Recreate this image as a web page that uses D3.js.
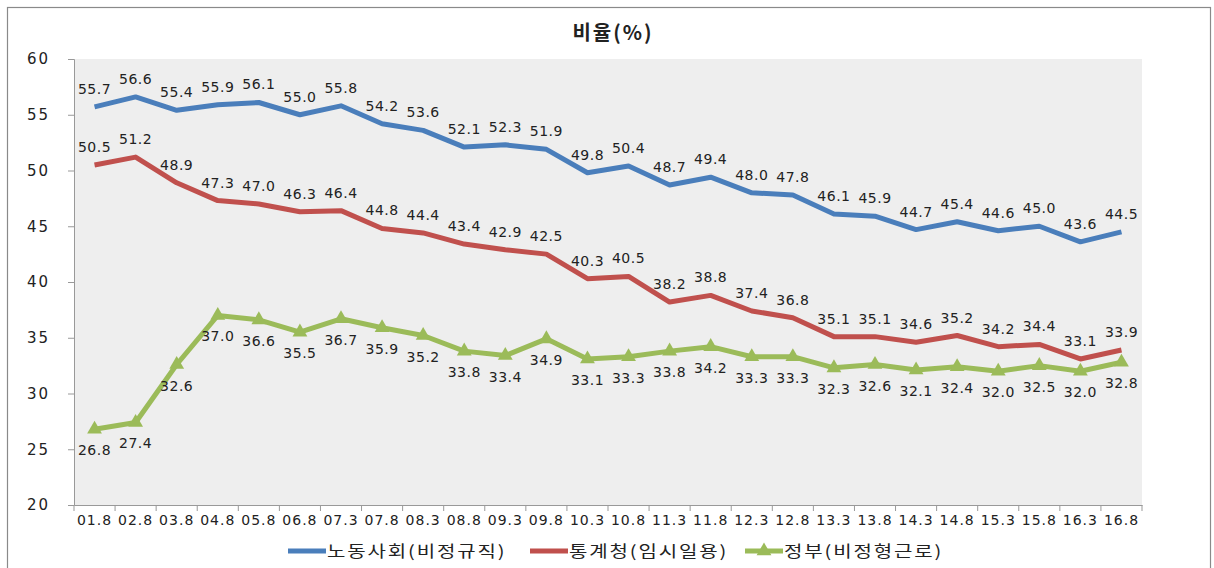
<!DOCTYPE html>
<html>
<head>
<meta charset="utf-8">
<script src="https://d3js.org/d3.v7.min.js"></script>
<style>
  body { margin: 0; background: #fff; }
  text { font-family: "DejaVu Sans", Verdana, sans-serif; fill: #222; }
  .kr { font-family: "Noto Sans CJK KR", "DejaVu Sans", sans-serif; }
</style>
</head>
<body>
<script>
  // categories (year.month)
  var periods = ["01.8","02.8","03.8","04.8","05.8","06.8","07.3","07.8","08.3","08.8","09.3","09.8","10.3",
                 "10.8","11.3","11.8","12.3","12.8","13.3","13.8","14.3","14.8","15.3","15.8","16.3","16.8"];

  var labour = [55.7,56.6,55.4,55.9,56.1,55.0,55.8,54.2,53.6,52.1,52.3,51.9,49.8,
                50.4,48.7,49.4,48.0,47.8,46.1,45.9,44.7,45.4,44.6,45.0,43.6,44.5];
  var statistics = [50.5,51.2,48.9,47.3,47.0,46.3,46.4,44.8,44.4,43.4,42.9,42.5,40.3,
                    40.5,38.2,38.8,37.4,36.8,35.1,35.1,34.6,35.2,34.2,34.4,33.1,33.9];
  var government = [26.8,27.4,32.6,37.0,36.6,35.5,36.7,35.9,35.2,33.8,33.4,34.9,33.1,
                    33.3,33.8,34.2,33.3,33.3,32.3,32.6,32.1,32.4,32.0,32.5,32.0,32.8];

  var seriesNames = ["노동사회(비정규직)", "통계청(임시일용)", "정부(비정형근로)"];
  var yTicks = [20,25,30,35,40,45,50,55,60];

  var W = 1214, H = 568;
  var margin = {top: 59, right: 72, bottom: 63, left: 74};
  var w = W - margin.left - margin.right;
  var h = H - margin.top - margin.bottom;

  var svg = d3.select("body").append("svg")
      .attr("width", W)
      .attr("height", H);

  // outer frame
  svg.append("rect")
    .attr("x", 7.5).attr("y", 7.5)
    .attr("width", 1203).attr("height", 570)
    .attr("fill", "none")
    .attr("stroke", "#8a8a8a")
    .attr("stroke-width", 1.2);

  svg.append("text")
    .attr("class", "kr")
    .attr("x", 613).attr("y", 40)
    .attr("text-anchor", "middle")
    .style("font-size", "20px")
    .style("font-weight", "bold")
    .style("letter-spacing", "2px")
    .text("비율(%)");

  var g = svg.append("g")
    .attr("transform", `translate(${margin.left},${margin.top})`);

  var x = d3.scaleBand()
    .domain(periods)
    .range([0, w]);

  var y = d3.scaleLinear()
    .domain([20, 60])
    .range([h, 0]);

  g.append("rect")
    .attr("width", w).attr("height", h)
    .attr("fill", "#eeeeee");

  // y axis
  var yAxis = g.append("g")
    .call(d3.axisLeft(y).tickValues(yTicks).tickSize(6).tickPadding(20));
  yAxis.select(".domain").attr("stroke", "#999");
  yAxis.selectAll(".tick line").attr("stroke", "#999");
  yAxis.selectAll("text").style("font-size", "15px").style("letter-spacing", "2px")
    .attr("dx", 2).attr("fill", "#222");

  // x axis
  var xAxis = g.append("g")
    .attr("transform", `translate(0,${h})`)
    .call(d3.axisBottom(x).tickSize(0).tickPadding(10));
  xAxis.select(".domain").attr("stroke", "#999");
  xAxis.selectAll("text").style("font-size", "14px").style("letter-spacing", "1px").attr("fill", "#222");
  // category boundary ticks
  g.append("g").selectAll("line")
    .data(periods.concat(["end"]))
    .enter().append("line")
    .attr("x1", function(d, i) { return i * x.step(); })
    .attr("x2", function(d, i) { return i * x.step(); })
    .attr("y1", h).attr("y2", h + 6)
    .attr("stroke", "#999");

  var series = [
    {name: seriesNames[0], values: labour, color: "#4a7ebb", labelDy: -13},
    {name: seriesNames[1], values: statistics, color: "#c0504d", labelDy: -13},
    {name: seriesNames[2], values: government, color: "#9bbb59", labelDy: 26, marker: true}
  ];

  var line = d3.line()
    .x(function(d, i) { return x(periods[i]) + x.bandwidth() / 2; })
    .y(function(d) { return y(d); });

  var tri = d3.symbol().type(d3.symbolTriangle).size(95);

  series.forEach(function(s) {
    g.append("path")
      .datum(s.values)
      .attr("d", line)
      .attr("fill", "none")
      .attr("stroke", s.color)
      .attr("stroke-width", 5)
      .attr("stroke-linejoin", "round");

    if (s.marker) {
      g.selectAll(null)
        .data(s.values)
        .enter().append("path")
        .attr("d", tri)
        .attr("transform", function(d, i) {
          return `translate(${x(periods[i]) + x.bandwidth() / 2},${y(d)})`;
        })
        .attr("fill", s.color);
    }

    g.selectAll(null)
      .data(s.values)
      .enter().append("text")
      .attr("x", function(d, i) { return x(periods[i]) + x.bandwidth() / 2; })
      .attr("y", function(d) { return y(d) + s.labelDy; })
      .attr("text-anchor", "middle")
      .style("font-size", "14px")
      .style("letter-spacing", "0.5px")
      .text(function(d) { return d.toFixed(1); });
  });

  // legend
  var legendX = [288, 530, 745];
  var legend = svg.append("g");
  series.forEach(function(s, i) {
    var lg = legend.append("g").attr("transform", `translate(${legendX[i]},551)`);
    lg.append("line")
      .attr("x1", 0).attr("x2", 38)
      .attr("stroke", s.color)
      .attr("stroke-width", 5);
    if (s.marker) {
      lg.append("path").attr("d", tri).attr("transform", "translate(19,0)").attr("fill", s.color);
    }
    lg.append("text")
      .attr("class", "kr")
      .attr("transform", "translate(39,6) scale(1.25,1)")
      .style("font-size", "16px")
      .style("letter-spacing", "1.5px")
      .text(s.name);
  });
</script>
</body>
</html>
